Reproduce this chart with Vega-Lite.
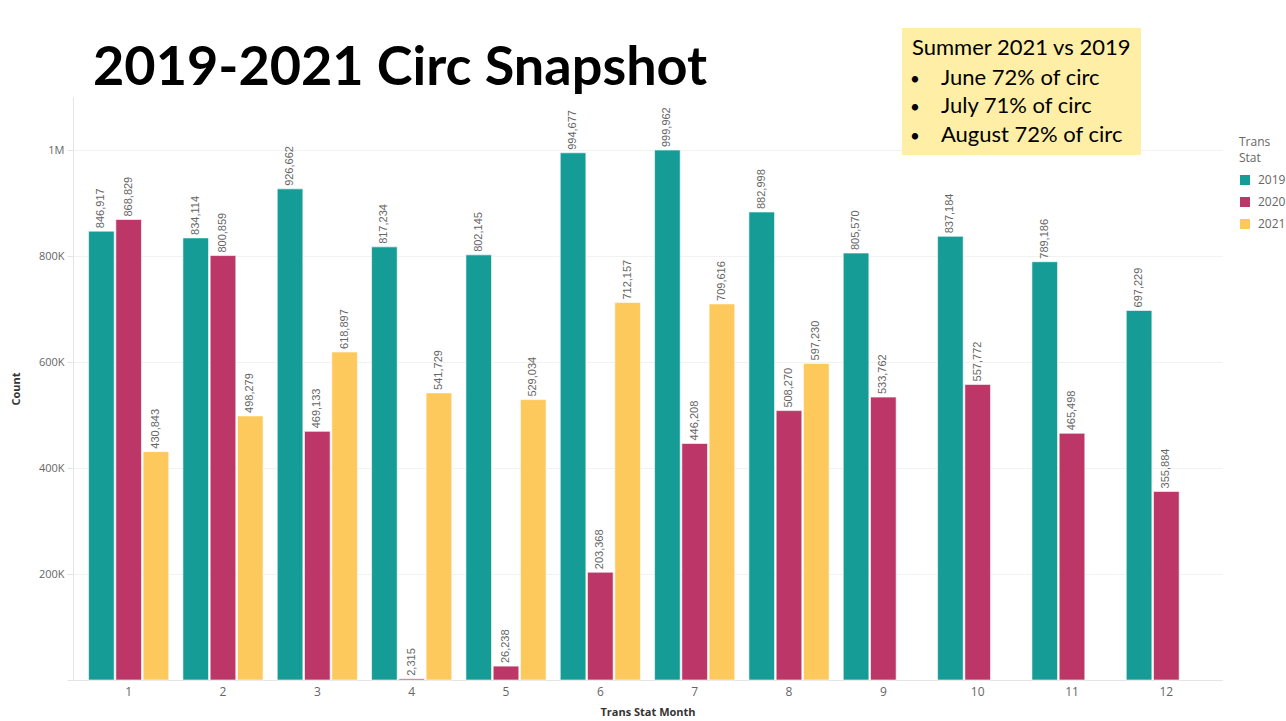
{
  "$schema": "https://vega.github.io/schema/vega-lite/v6.json",
  "width": 1149,
  "height": 583,
  "autosize": {"type": "none"},
  "padding": {"left": 73, "top": 97, "right": 64, "bottom": 41},
  "background": "white",
  "data": {
    "values": [
      {"month": 1, "year": "2019", "count": 846917},
      {"month": 2, "year": "2019", "count": 834114},
      {"month": 3, "year": "2019", "count": 926662},
      {"month": 4, "year": "2019", "count": 817234},
      {"month": 5, "year": "2019", "count": 802145},
      {"month": 6, "year": "2019", "count": 994677},
      {"month": 7, "year": "2019", "count": 999962},
      {"month": 8, "year": "2019", "count": 882998},
      {"month": 9, "year": "2019", "count": 805570},
      {"month": 10, "year": "2019", "count": 837184},
      {"month": 11, "year": "2019", "count": 789186},
      {"month": 12, "year": "2019", "count": 697229},
      {"month": 1, "year": "2020", "count": 868829},
      {"month": 2, "year": "2020", "count": 800859},
      {"month": 3, "year": "2020", "count": 469133},
      {"month": 4, "year": "2020", "count": 2315},
      {"month": 5, "year": "2020", "count": 26238},
      {"month": 6, "year": "2020", "count": 203368},
      {"month": 7, "year": "2020", "count": 446208},
      {"month": 8, "year": "2020", "count": 508270},
      {"month": 9, "year": "2020", "count": 533762},
      {"month": 10, "year": "2020", "count": 557772},
      {"month": 11, "year": "2020", "count": 465498},
      {"month": 12, "year": "2020", "count": 355884},
      {"month": 1, "year": "2021", "count": 430843},
      {"month": 2, "year": "2021", "count": 498279},
      {"month": 3, "year": "2021", "count": 618897},
      {"month": 4, "year": "2021", "count": 541729},
      {"month": 5, "year": "2021", "count": 529034},
      {"month": 6, "year": "2021", "count": 712157},
      {"month": 7, "year": "2021", "count": 709616},
      {"month": 8, "year": "2021", "count": 597230}
    ]
  },
  "layer": [
    {
      "encoding": {
        "x": {
          "field": "month",
          "type": "ordinal",
          "title": "Trans Stat Month",
          "scale": {"paddingInner": 0.15, "paddingOuter": 0.165},
          "axis": {"labelAngle": 0, "ticks": false, "labelPadding": 6, "labelFontSize": 12, "grid": false, "titlePadding": 9}
        },
        "xOffset": {
          "field": "year",
          "type": "nominal",
          "scale": {"domain": ["2019", "2020", "2021"], "paddingInner": 0.06}
        },
        "y": {
          "field": "count",
          "type": "quantitative",
          "title": "Count",
          "scale": {"domain": [0, 1100000], "nice": false},
          "axis": {
            "values": [0, 200000, 400000, 600000, 800000, 1000000],
            "labelExpr": "datum.value == 0 ? '' : (datum.value >= 1000000 ? (datum.value / 1000000) + 'M' : (datum.value / 1000) + 'K')",
            "tickSize": 6,
            "labelPadding": 3,
            "grid": true,
            "domain": true,
            "titlePadding": 17
          }
        }
      },
      "layer": [
        {
          "mark": {"type": "bar", "stroke": "#ffffff", "strokeOpacity": 0.6, "strokeWidth": 1},
          "encoding": {
            "color": {
              "field": "year",
              "type": "nominal",
              "scale": {"domain": ["2019", "2020", "2021"], "range": ["#169C96", "#BC3767", "#FEC95C"]},
              "legend": {
                "title": ["Trans", "Stat"],
                "orient": "none",
                "legendX": 1166,
                "legendY": 40,
                "padding": 0,
                "titleFont": "Open Sans",
                "titleFontSize": 12,
                "titleFontWeight": "normal",
                "titleColor": "#666666",
                "titleLineHeight": 16,
                "titlePadding": 9,
                "labelFont": "Open Sans",
                "labelFontSize": 12,
                "labelColor": "#666666",
                "labelOffset": 7,
                "symbolType": "square",
                "symbolSize": 100,
                "symbolStrokeWidth": 0,
                "rowPadding": 10
              }
            }
          }
        },
        {
          "mark": {"type": "text", "angle": 270, "align": "left", "baseline": "middle", "dx": 3, "font": "Liberation Sans", "fontSize": 11, "fill": "#666666"},
          "encoding": {
            "text": {"field": "count", "type": "quantitative", "format": ","}
          }
        }
      ]
    },
    {
      "data": {"values": [{}]},
      "layer": [
        {
          "mark": {"type": "text", "text": "2019-2021 Circ Snapshot", "align": "left", "baseline": "alphabetic", "font": "Lato", "fontSize": 54, "fontWeight": "bold", "fill": "#000000"},
          "encoding": {
            "x": {"datum": 0.0174, "type": "quantitative", "scale": {"domain": [0, 1]}, "axis": null},
            "y": {"datum": 1.0206, "type": "quantitative", "scale": {"domain": [0, 1]}, "axis": null}
          }
        },
        {
          "mark": {"type": "rect", "fill": "#FEEEA6"},
          "encoding": {
            "x": {"datum": 0.7215, "type": "quantitative"},
            "x2": {"datum": 0.9295},
            "y": {"datum": 1.1184, "type": "quantitative"},
            "y2": {"datum": 0.9005}
          }
        },
        {
          "mark": {"type": "text", "text": "Summer 2021 vs 2019", "align": "left", "baseline": "alphabetic", "font": "Lato", "fontSize": 22, "fill": "#000000"},
          "encoding": {
            "x": {"datum": 0.7302, "type": "quantitative"},
            "y": {"datum": 1.072, "type": "quantitative"}
          }
        },
        {
          "mark": {"type": "text", "text": ["•", "•", "•"], "align": "center", "baseline": "alphabetic", "lineHeight": 28.3, "font": "Lato", "fontSize": 17, "fill": "#000000"},
          "encoding": {
            "x": {"datum": 0.7328, "type": "quantitative"},
            "y": {"datum": 1.0206, "type": "quantitative"}
          }
        },
        {
          "mark": {"type": "text", "text": ["June 72% of circ", "July 71% of circ", "August 72% of circ"], "align": "left", "baseline": "alphabetic", "lineHeight": 28.3, "font": "Lato", "fontSize": 22, "fill": "#000000"},
          "encoding": {
            "x": {"datum": 0.7554, "type": "quantitative"},
            "y": {"datum": 1.0206, "type": "quantitative"}
          }
        }
      ]
    }
  ],
  "resolve": {"scale": {"x": "independent", "y": "independent"}},
  "config": {
    "view": {"stroke": null},
    "axis": {
      "labelFont": "Open Sans",
      "labelColor": "#666666",
      "labelFontSize": 11,
      "titleFont": "Open Sans",
      "titleFontWeight": "bold",
      "titleFontSize": 11,
      "titleColor": "#333333",
      "gridColor": "#f2f2f2",
      "domainColor": "#e4e4e4",
      "tickColor": "#e4e4e4"
    }
  }
}
